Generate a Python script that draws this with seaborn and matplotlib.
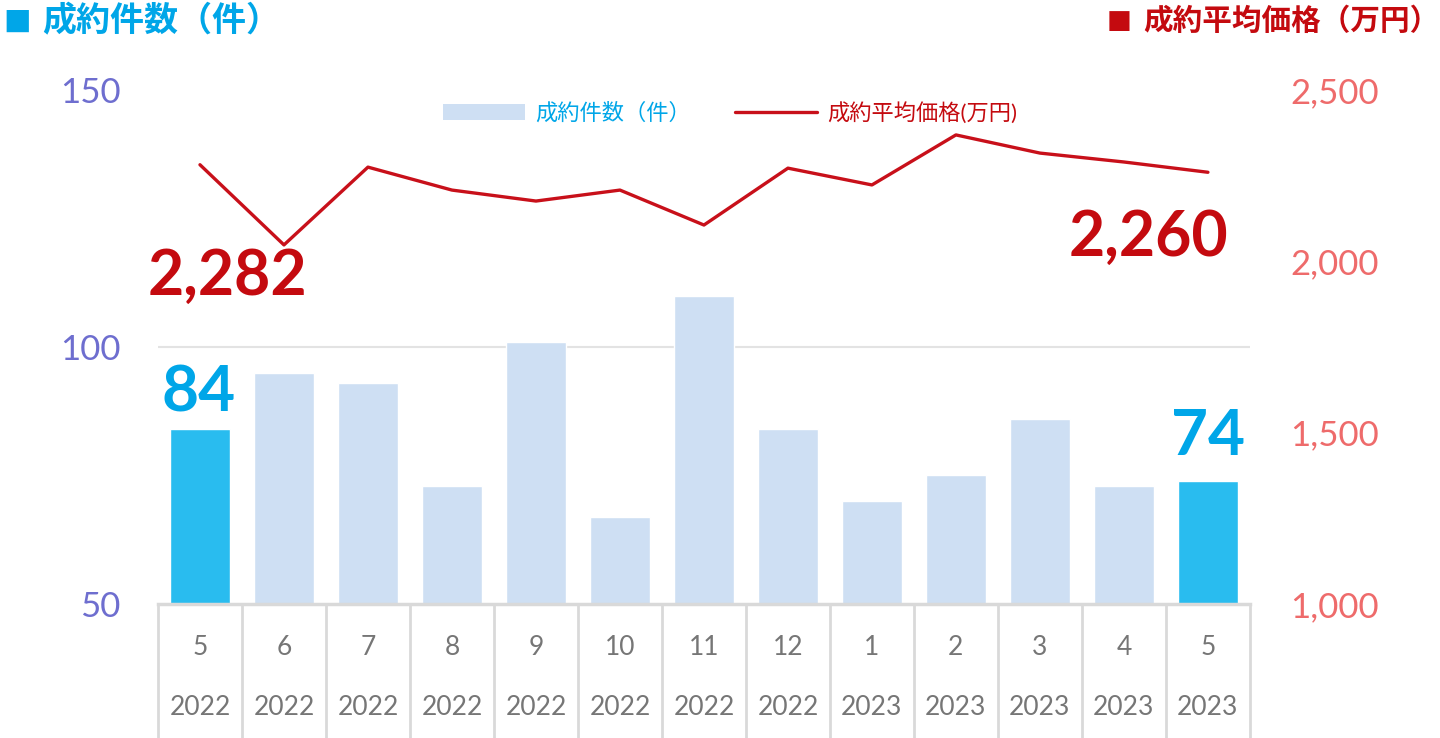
import numpy as np
import pandas as pd
import matplotlib
matplotlib.use("Agg")
import matplotlib.pyplot as plt
import matplotlib.transforms as mtransforms
from matplotlib.patches import Patch
from matplotlib.lines import Line2D
import seaborn as sns

# data
months = ["5", "6", "7", "8", "9", "10", "11", "12", "1", "2", "3", "4", "5"]
years = ["2022"] * 8 + ["2023"] * 5
deals = [84, 95, 93, 73, 101, 67, 110, 84, 70, 75, 86, 73, 74]
price = [2282, 2048, 2275, 2208, 2176, 2208, 2106, 2272, 2223, 2369, 2316, 2290, 2260]

sns.set_theme(style="white")
plt.rcParams["font.family"] = ["Lato", "Noto Sans CJK JP", "DejaVu Sans"]

BAR = "#CEDFF3"
BAR_HI = "#29BCEF"
CYAN = "#00A6E8"
RED = "#C40A0F"
LINE = "#C8101A"

df = pd.DataFrame({"idx": range(len(months)), "month": months, "year": years,
                   "deals": deals, "price": price})
df["label"] = df["month"] + "\n" + df["year"]
df["hi"] = ["hi" if i in (0, len(df) - 1) else "lo" for i in df["idx"]]

fig = plt.figure(figsize=(14.4, 7.38), dpi=100)
ax = fig.add_axes([0.1097, 0.1816, 0.868 - 0.1097, 0.878 - 0.1816])

sns.barplot(data=df, x="idx", y="deals", hue="hi", palette={"hi": BAR_HI, "lo": BAR},
            width=0.71, legend=False, ax=ax, saturation=1)
ax.set_ylim(50, 150)
ax.set_xlim(-0.5, len(df) - 0.5)
ax.set_yticks([50, 100, 150])
ax.set_xticks(df["idx"])
ax.set_xticklabels(df["label"], linespacing=2.75)
ax.tick_params(axis="x", length=0, pad=22, labelsize=19, labelcolor="#767676")
ax.tick_params(axis="y", length=0, pad=27, labelsize=25, labelcolor="#6E6ECF")
ax.set_xlabel("")
ax.set_ylabel("")
ax.axhline(100, color="#E3E3E3", lw=1.5, zorder=0)
for s in ["top", "right", "left"]:
    ax.spines[s].set_visible(False)
ax.spines["bottom"].set_color("#D9D9D9")
ax.spines["bottom"].set_linewidth(2.5)

# table-like separators under the axis
trans = mtransforms.blended_transform_factory(ax.transData, ax.transAxes)
for xs in np.arange(-0.5, len(df), 1.0):
    ax.plot([xs, xs], [0, -0.3], color="#D9D9D9", lw=2, transform=trans, clip_on=False)

ax2 = ax.twinx()
sns.lineplot(data=df, x="idx", y="price", color=LINE, lw=2.4, ax=ax2)
ax2.set_ylim(1000, 2500)
ax2.set_yticks([1000, 1500, 2000, 2500])
ax2.set_yticklabels([f"{v:,}" for v in [1000, 1500, 2000, 2500]])
ax2.tick_params(axis="y", length=0, pad=29, labelsize=25, labelcolor="#EE6B6B")
ax2.set_ylabel("")
for s in ax2.spines.values():
    s.set_visible(False)

# highlighted values
first, last = 0, len(df) - 1
ax2.annotate(f"{price[first]:,}", xy=(first, price[first]), xytext=(20, -81),
             textcoords="offset points", ha="center", va="center",
             fontsize=45, fontweight="bold", color=RED)
ax2.annotate(f"{price[last]:,}", xy=(last, price[last]), xytext=(-43, -47),
             textcoords="offset points", ha="center", va="center",
             fontsize=45, fontweight="bold", color=RED)
ax.annotate(f"{deals[first]}", xy=(first, deals[first]), xytext=(-1, 26),
            textcoords="offset points", ha="center", va="center",
            fontsize=46, fontweight="bold", color=CYAN)
ax.annotate(f"{deals[last]}", xy=(last, deals[last]), xytext=(0, 32),
            textcoords="offset points", ha="center", va="center",
            fontsize=46, fontweight="bold", color=CYAN)

# legend
handles = [Patch(facecolor=BAR, edgecolor="none"), Line2D([], [], color=LINE, lw=2.4)]
leg = fig.legend(handles, ["成約件数（件）", "成約平均価格(万円)"], loc="center",
                 bbox_to_anchor=(0.507, 0.847), ncol=2, frameon=False,
                 fontsize=16, handlelength=3.7, handleheight=0.7, columnspacing=2.0,
                 handletextpad=0.45)
leg.get_texts()[0].set_color(CYAN)
leg.get_texts()[1].set_color(RED)

# header labels
fig.text(0.002, 0.972, "■", color=CYAN, fontsize=21, va="center", ha="left",
         family=["DejaVu Sans"])
fig.text(0.029, 0.972, "成約件数（件）", color=CYAN, fontsize=24.5, fontweight="bold",
         va="center", ha="left", family=["Noto Sans CJK JP", "DejaVu Sans"])
fig.text(0.9995, 0.972, "成約平均価格（万円）", color=RED, fontsize=21.3, fontweight="bold",
         va="center", ha="right", family=["Noto Sans CJK JP", "DejaVu Sans"])
fig.text(0.7685, 0.972, "■", color=RED, fontsize=19, va="center", ha="left",
         family=["DejaVu Sans"])

fig.savefig("out.png", dpi=100)
